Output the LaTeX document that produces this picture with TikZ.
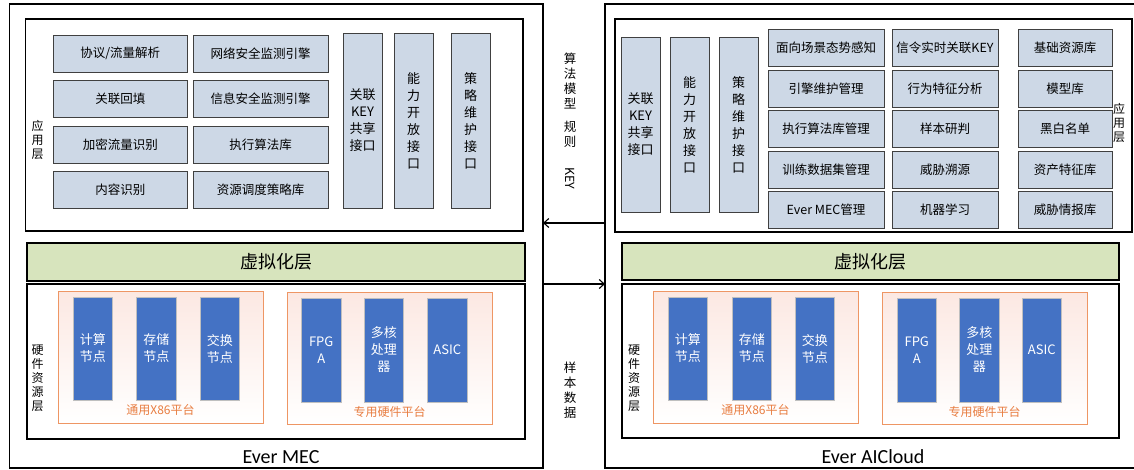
\documentclass[tikz,border=0pt]{standalone}
\usepackage{fontspec}
\setmainfont{Noto Sans CJK SC}
\newfontfamily\latinfont{Carlito}
\usepackage{tikz}
\usetikzlibrary{arrows.meta}
\definecolor{cellfill}{RGB}{205,216,230}
\definecolor{virtfill}{RGB}{215,228,189}
\definecolor{hwblue}{RGB}{68,114,196}
\definecolor{platline}{RGB}{238,150,100}
\definecolor{plattext}{RGB}{232,125,65}
\definecolor{platfill}{RGB}{252,232,226}
\tikzset{
  box/.style={anchor=north west, inner sep=0pt, outer sep=0pt},
  frame/.style={box, draw, line width=1.1pt},
  applayer/.style={box, draw, line width=1.3pt},
  cell/.style={box, draw=black!75, fill=cellfill, line width=0.8pt, minimum height=37,
    font=\fontsize{12.5}{15}\selectfont},
  port/.style={box, draw=black!75, fill=cellfill, line width=0.8pt, minimum width=39,
    minimum height=175, align=center, font=\fontsize{13}{17}\selectfont},
  virt/.style={box, draw, fill=virtfill, line width=1.8pt, font=\fontsize{18}{20}\selectfont},
  hwlayer/.style={box, draw, line width=1.3pt},
  platform/.style={box, draw=platline, line width=0.9pt, top color=platfill, bottom color=white,
    minimum width=205, minimum height=132},
  hwnode/.style={box, draw=black!25, fill=hwblue, line width=0.8pt, minimum width=39.5,
    text=white, align=center, font=\fontsize{13}{17}\selectfont},
  plattxt/.style={text=plattext, font=\fontsize{12}{14}\selectfont},
  sidetxt/.style={align=center, font=\fontsize{12}{14}\selectfont},
  title/.style={font=\latinfont\fontsize{20}{22}\selectfont},
  arr/.style={line width=1.1pt, -{Straight Barb[length=5pt,width=9pt]}}
}
\begin{document}
\begin{tikzpicture}[x=1pt, y=-1pt]
\useasboundingbox (0,0) rectangle (1134,470);

% Ever MEC
\node[frame, minimum width=533.5, minimum height=464] (mec) at (9.5,4) {};
\node[title] (mectitle) at (281,457) {Ever MEC};

% 应用层
\node[applayer, minimum width=497.5, minimum height=212] (appL) at (25.5,19) {};
\node[sidetxt] (appLtxt) at (37.5,140) {应\\用\\层};
\node[cell, minimum width=134.5] (L11) at (53,35) {协议/流量解析};
\node[cell, minimum width=135] (L12) at (193,35) {网络安全监测引擎};
\node[cell, minimum width=134.5] (L21) at (53,80) {关联回填};
\node[cell, minimum width=135] (L22) at (193,80) {信息安全监测引擎};
\node[cell, minimum width=134.5] (L31) at (53,126) {加密流量识别};
\node[cell, minimum width=135] (L32) at (193,126) {执行算法库};
\node[cell, minimum width=134.5] (L41) at (53,171) {内容识别};
\node[cell, minimum width=135] (L42) at (193,171) {资源调度策略库};
\node[port] (Lkey) at (343,33) {关联\\KEY\\共享\\接口};
\node[port] (Lcap) at (394,33) {能\\力\\开\\放\\接\\口};
\node[port] (Lpol) at (451,33) {策\\略\\维\\护\\接\\口};

% 虚拟化层
\node[virt, minimum width=498, minimum height=38] (virtL) at (27,243) {虚拟化层};

% 硬件资源层
\node[hwlayer, minimum width=498, minimum height=155] (hwL) at (27,284) {};
\node[sidetxt] (hwLtxt) at (37.5,378) {硬\\件\\资\\源\\层};
\node[platform] (x86L) at (58,291) {};
\node[platform] (asicL) at (287,292) {};
\node[hwnode, minimum height=103] (Lcpu) at (73,297) {计算\\节点};
\node[hwnode, minimum height=103] (Lsto) at (136.5,297) {存储\\节点};
\node[hwnode, minimum height=103] (Lsw) at (200,297) {交换\\节点};
\node[hwnode, minimum height=104] (Lfpga) at (301.5,298) {FPG\\A};
\node[hwnode, minimum height=104] (Lmc) at (364,298) {多核\\处理\\器};
\node[hwnode, minimum height=104] (Lasic) at (427.5,298) {ASIC};
\node[plattxt] (x86Ltxt) at (160.5,410) {通用X86平台};
\node[plattxt] (asicLtxt) at (389.5,412) {专用硬件平台};

% Ever AICloud
\node[frame, minimum width=532, minimum height=464] (cloud) at (605,4) {};
\node[title] (cloudtitle) at (873,457) {Ever AICloud};

% 应用层
\node[applayer, minimum width=517, minimum height=213] (appR) at (615,19) {};
\node[sidetxt] (appRtxt) at (1119,123) {应\\用\\层};
\node[port] (Rkey) at (621,37) {关联\\KEY\\共享\\接口};
\node[port] (Rcap) at (670,37) {能\\力\\开\\放\\接\\口};
\node[port] (Rpol) at (719,37) {策\\略\\维\\护\\接\\口};
\node[cell, minimum width=116] (R11) at (768,29) {面向场景态势感知};
\node[cell, minimum width=106] (R12) at (892,29) {信令实时关联KEY};
\node[cell, minimum width=94] (R13) at (1018,29) {基础资源库};
\node[cell, minimum width=116] (R21) at (768,70) {引擎维护管理};
\node[cell, minimum width=106] (R22) at (892,70) {行为特征分析};
\node[cell, minimum width=94] (R23) at (1018,70) {模型库};
\node[cell, minimum width=116] (R31) at (768,110) {执行算法库管理};
\node[cell, minimum width=106] (R32) at (892,110) {样本研判};
\node[cell, minimum width=94] (R33) at (1018,110) {黑白名单};
\node[cell, minimum width=116] (R41) at (768,151) {训练数据集管理};
\node[cell, minimum width=106] (R42) at (892,151) {威胁溯源};
\node[cell, minimum width=94] (R43) at (1018,151) {资产特征库};
\node[cell, minimum width=116] (R51) at (768,191) {Ever MEC管理};
\node[cell, minimum width=106] (R52) at (892,191) {机器学习};
\node[cell, minimum width=94] (R53) at (1018,191) {威胁情报库};

% 虚拟化层
\node[virt, minimum width=497, minimum height=37] (virtR) at (622,243) {虚拟化层};

% 硬件资源层
\node[hwlayer, minimum width=497, minimum height=154] (hwR) at (622,284) {};
\node[sidetxt] (hwRtxt) at (634,378) {硬\\件\\资\\源\\层};
\node[platform] (x86R) at (653,291) {};
\node[platform] (asicR) at (882,292) {};
\node[hwnode, minimum height=103] (Rcpu) at (668,297) {计算\\节点};
\node[hwnode, minimum height=103] (Rsto) at (732,297) {存储\\节点};
\node[hwnode, minimum height=103] (Rsw) at (795,297) {交换\\节点};
\node[hwnode, minimum height=104] (Rfpga) at (897,298) {FPG\\A};
\node[hwnode, minimum height=104] (Rmc) at (959.5,298) {多核\\处理\\器};
\node[hwnode, minimum height=104] (Rasic) at (1022,298) {ASIC};
\node[plattxt] (x86Rtxt) at (755.5,410) {通用X86平台};
\node[plattxt] (asicRtxt) at (984.5,412) {专用硬件平台};

% links
\draw[arr] ([yshift=13pt]cloud.west) -- ([yshift=13pt]mec.east);
\draw[arr] ([yshift=-48pt]mec.east) -- ([yshift=-48pt]cloud.west);
\node[align=center, font=\fontsize{12.5}{15}\selectfont] (model) at (570,121)
  {算\\法\\模\\型\\[8pt]规\\则\\[6pt]\rotatebox{-90}{KEY}};
\node[sidetxt, font=\fontsize{12.5}{15}\selectfont] (sample) at (570,390) {样\\本\\数\\据};
\end{tikzpicture}
\end{document}
